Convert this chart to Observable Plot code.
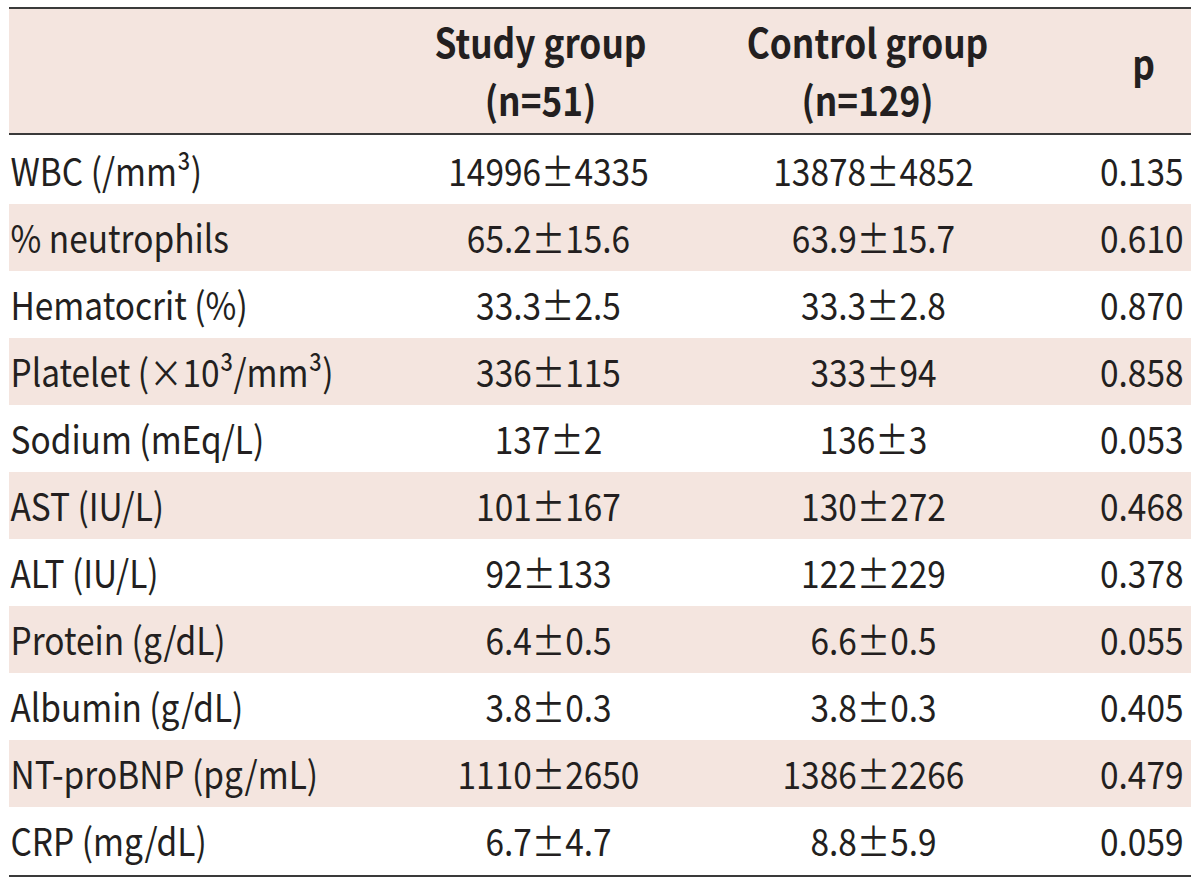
<!DOCTYPE html>
<html>
<head>
<meta charset="utf-8">
<script src="https://cdn.jsdelivr.net/npm/d3@7"></script>
<script src="https://cdn.jsdelivr.net/npm/@observablehq/plot@0.6"></script>
<style>
  html, body { margin: 0; padding: 0; background: #ffffff; }
  #chart svg { display: block; }
</style>
</head>
<body>
<div id="chart"></div>
<script>
// ---- data ----
const variables = [
  "WBC (/mm³)", "% neutrophils", "Hematocrit (%)", "Platelet (×10³/mm³)",
  "Sodium (mEq/L)", "AST (IU/L)", "ALT (IU/L)", "Protein (g/dL)",
  "Albumin (g/dL)", "NT-proBNP (pg/mL)", "CRP (mg/dL)"
];
const decimals    = [0, 1, 1, 0, 0, 0, 0, 1, 1, 0, 1];
const studyMean   = [14996, 65.2, 33.3, 336, 137, 101, 92, 6.4, 3.8, 1110, 6.7];
const studySD     = [4335, 15.6, 2.5, 115, 2, 167, 133, 0.5, 0.3, 2650, 4.7];
const controlMean = [13878, 63.9, 33.3, 333, 136, 130, 122, 6.6, 3.8, 1386, 8.8];
const controlSD   = [4852, 15.7, 2.8, 94, 3, 272, 229, 0.5, 0.3, 2266, 5.9];
const pValues     = [0.135, 0.610, 0.870, 0.858, 0.053, 0.468, 0.378, 0.055, 0.405, 0.479, 0.059];
const headerGroups = ["Study group", "Control group"];
const headerNs     = ["(n=51)", "(n=129)"];
const headerP      = ["p"];

// ---- styles ----
const SHADE = "#f4e5df";
const INK = "#231f20";
const RULE = "#3a3a3a";
const FONT = "'Noto Sans CJK KR', 'Noto Sans', sans-serif";
const COL = { label: 10, study: 548, control: 873, p: 1183, left: 9, right: 1191 };
const headerCenters = [540, 867];
const SQUEEZE = 0.88;

const rows = variables.map((v, i) => ({
  variable: v,
  study: `${studyMean[i].toFixed(decimals[i])}±${studySD[i].toFixed(decimals[i])}`,
  control: `${controlMean[i].toFixed(decimals[i])}±${controlSD[i].toFixed(decimals[i])}`,
  p: pValues[i].toFixed(3),
  shaded: i % 2 === 1
}));

function headerBackground(index, scales, values, dims) {
  const g = d3.create("svg:g");
  const top = 8;
  g.append("rect")
    .attr("x", COL.left).attr("y", top)
    .attr("width", COL.right - COL.left).attr("height", dims.marginTop - top)
    .attr("fill", SHADE);
  return g.node();
}

function tableRules(index, scales, values, dims) {
  const g = d3.create("svg:g").attr("stroke", RULE).attr("stroke-width", 2);
  const ys = [8, dims.marginTop, dims.height - dims.marginBottom];
  for (const y of ys) {
    g.append("line").attr("x1", COL.left).attr("x2", COL.right).attr("y1", y).attr("y2", y);
  }
  return g.node();
}

const bodyText = {
  fontSize: 38,
  lineAnchor: "bottom",
  dy: 15,
  fill: INK
};
const headText = {
  frameAnchor: "top",
  lineAnchor: "bottom",
  fontSize: 40,
  fontWeight: "bold",
  fill: INK,
  textAnchor: "middle"
};

const chart = Plot.plot({
  width: 1200,
  height: 886,
  marginTop: 134,
  marginBottom: 10,
  marginLeft: 0,
  marginRight: 0,
  x: { type: "linear", domain: [0, 1200], axis: null },
  y: { type: "band", domain: variables, padding: 0, axis: null },
  style: { fontFamily: FONT, background: "#ffffff", color: INK },
  marks: [
    headerBackground,
    Plot.barX(rows.filter(d => d.shaded), {
      y: "variable", x1: () => COL.left, x2: () => COL.right, fill: SHADE
    }),
    tableRules,
    // header
    Plot.text(headerGroups, { ...headText, x: (d, i) => headerCenters[i], text: d => d, dy: -77 }),
    Plot.text(headerNs, { ...headText, x: (d, i) => headerCenters[i], text: d => d, dy: -19 }),
    Plot.text(headerP, { ...headText, x: () => 1143, text: d => d, dy: -56 }),
    // body
    Plot.text(rows, { ...bodyText, x: () => COL.label, y: "variable", text: "variable", textAnchor: "start" }),
    Plot.text(rows, { ...bodyText, x: () => COL.study, y: "variable", text: "study", textAnchor: "middle" }),
    Plot.text(rows, { ...bodyText, x: () => COL.control, y: "variable", text: "control", textAnchor: "middle" }),
    Plot.text(rows, { ...bodyText, x: () => COL.p, y: "variable", text: "p", textAnchor: "end" })
  ]
});

// narrow the glyphs horizontally (the original uses a condensed face)
d3.select(chart).selectAll("text").each(function () {
  const x = this.getAttribute("x"), y = this.getAttribute("y");
  let tr = this.getAttribute("transform") || "";
  if (x != null || y != null) {
    tr += ` translate(${x || 0},${y || 0})`;
    this.removeAttribute("x");
    this.removeAttribute("y");
  }
  this.setAttribute("transform", `${tr} scale(${SQUEEZE},1)`);
});

document.getElementById("chart").append(chart);
</script>
</body>
</html>
